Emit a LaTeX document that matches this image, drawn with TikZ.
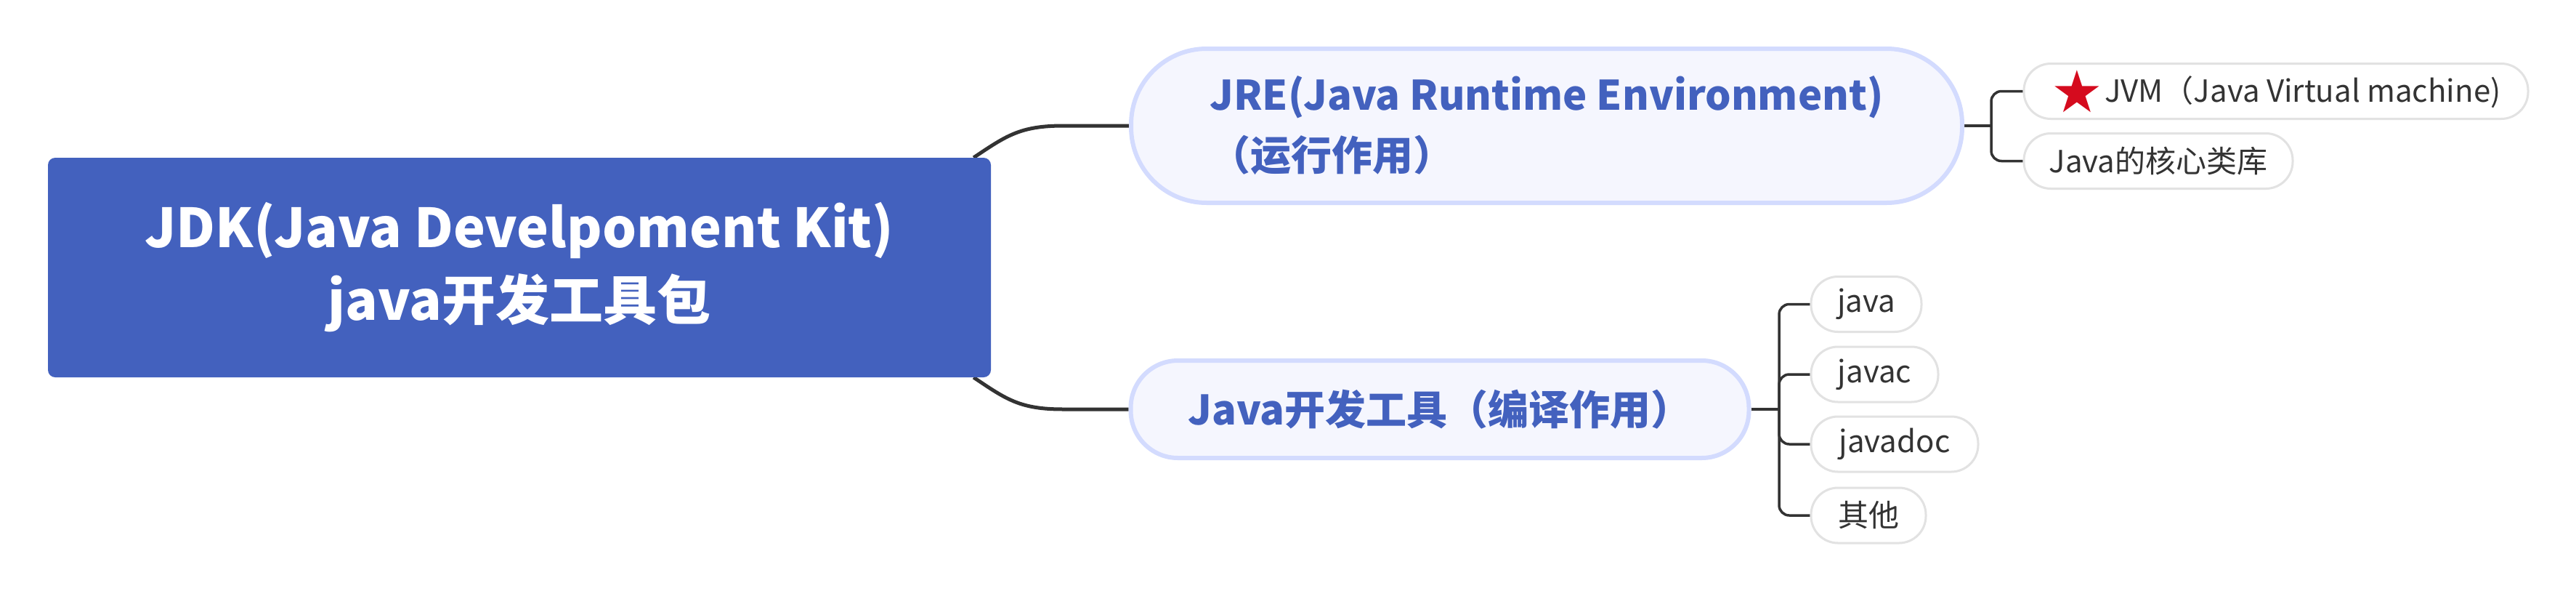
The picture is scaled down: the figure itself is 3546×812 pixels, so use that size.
\documentclass[tikz,border=0pt]{standalone}
\usepackage{fontspec}
\setmainfont{Noto Sans CJK SC}
\newfontfamily\starfont{DejaVu Sans}
\usetikzlibrary{calc}
\definecolor{rootblue}{RGB}{67,97,190}
\definecolor{mainfill}{RGB}{245,246,254}
\definecolor{mainborder}{RGB}{211,219,254}
\definecolor{textblue}{RGB}{67,97,190}
\definecolor{leafborder}{RGB}{226,226,226}
\definecolor{leaftext}{RGB}{51,51,51}
\definecolor{linecol}{RGB}{51,51,51}
\definecolor{starred}{RGB}{213,11,30}
\pgfdeclarelayer{background}
\pgfsetlayers{background,main}
\begin{document}
\begin{tikzpicture}[x=1pt,y=-1pt,
  rootbox/.style={fill=rootblue, rounded corners=10pt, minimum width=1298pt, minimum height=302pt,
    text=white, font=\fontsize{74}{100}\selectfont\bfseries, align=center, inner sep=0pt},
  mainbox/.style={fill=mainfill, draw=mainborder, line width=6pt, text=textblue,
    font=\fontsize{56}{83}\selectfont\bfseries, align=left, inner sep=0pt},
  leaf/.style={fill=white, draw=leafborder, line width=3pt, text=leaftext,
    font=\fontsize{42}{50}\selectfont, minimum height=76pt, inner sep=0pt, rounded corners=37pt},
  trunk/.style={draw=linecol, line width=5pt},
  branch/.style={draw=linecol, line width=3.5pt, rounded corners=14pt}]
\begin{pgfonlayer}{background}
\path[use as bounding box, fill=white] (0,0) rectangle (3546,812);
\end{pgfonlayer}

\node[rootbox] (root) at (715,368) {JDK(Java Develpoment Kit)\\java开发工具包};
\node[mainbox, minimum width=1144pt, minimum height=212pt, rounded corners=104pt] (jre) at (2129,173)
  {JRE(Java Runtime Environment)\\（运行作用）};
\node[mainbox, minimum width=851pt, minimum height=134pt, rounded corners=65pt] (tools) at (1982,563)
  {Java开发工具（编译作用）};

\node[leaf, minimum width=694pt] (jvm) at (3133,125.5)
  {\raisebox{-14pt}{\color{starred}\fontsize{80}{50}\starfont ★}\hspace{2pt}JVM（Java Virtual machine)};
\node[leaf, minimum width=370pt] (lib) at (2971,221.5) {Java的核心类库};

\node[leaf, minimum width=152pt] (java) at (2569,418.5) {java};
\node[leaf, minimum width=175pt] (javac) at (2580.5,515) {javac};
\node[leaf, minimum width=230pt] (javadoc) at (2608,611) {javadoc};
\node[leaf, minimum width=158pt] (other) at (2572,709) {其他};

\coordinate (s1) at (2741,173);
\coordinate (s2) at (2449,563);

\begin{pgfonlayer}{background}
\draw[trunk] ([xshift=-24pt]root.north east) .. controls +(45,-30) and +(-60,0) .. ([xshift=-90pt]jre.west) -- (jre.west);
\draw[trunk] ([xshift=-24pt]root.south east) .. controls +(45,30) and +(-60,0) .. ([xshift=-90pt]tools.west) -- (tools.west);
\draw[branch] (jre.east) -- (s1);
\draw[branch] (s1) |- (jvm.west);
\draw[branch] (s1) |- (lib.west);
\draw[branch] (tools.east) -- (s2);
\draw[branch] (s2) |- (java.west);
\draw[branch] (s2) |- (javac.west);
\draw[branch] (s2) |- (javadoc.west);
\draw[branch] (s2) |- (other.west);
\end{pgfonlayer}
\end{tikzpicture}
\end{document}
